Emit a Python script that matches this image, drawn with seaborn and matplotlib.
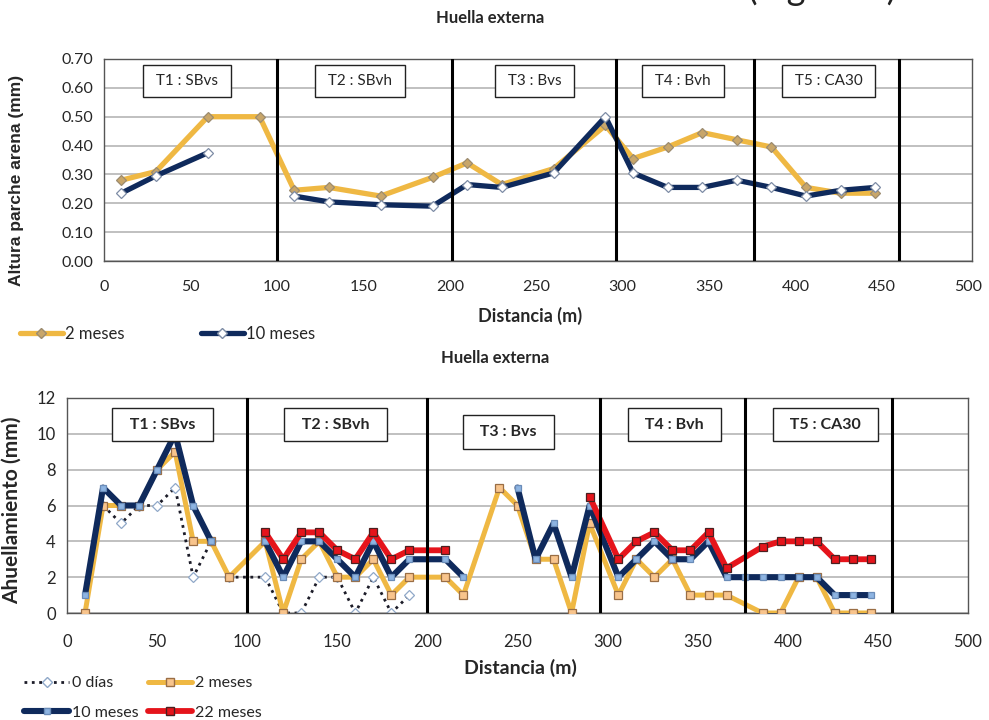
import numpy as np
import pandas as pd
import matplotlib
matplotlib.use("Agg")
import matplotlib.pyplot as plt
from matplotlib.lines import Line2D
from matplotlib.ticker import FormatStrFormatter
import seaborn as sns

sns.set_style("white")
plt.rcParams['font.family'] = ['Lato', 'DejaVu Sans']

nan = np.nan

# ---- Altura parche arena (mm), huella externa ----
dist_top = [10, 30, 60, 90, 110, 130, 160, 190, 210, 230, 260, 290,
            306, 326, 346, 366, 386, 406, 426, 446]
altura_2m = [0.28, 0.31, 0.50, 0.50, 0.245, 0.255, 0.225, 0.29, 0.34, 0.265,
             0.32, 0.47, 0.355, 0.395, 0.445, 0.42, 0.395, 0.255, 0.235, 0.235]
altura_10m = [0.235, 0.295, 0.375, nan, 0.225, 0.205, 0.195, 0.19, 0.265, 0.255,
              0.305, 0.50, 0.305, 0.255, 0.255, 0.28, 0.255, 0.225, 0.245, 0.255]

# ---- Ahuellamiento (mm), huella externa ----  (nan = corte de la linea)
dist_0d = [20, 30, 40, 50, 60, 70, 80, 90, 110, 120, 130, 140, 150, 160, 170, 180, 190]
ahu_0d = [6, 5, 6, 6, 7, 2, 4, 2, 2, 0, 0, 2, 2, 0, 2, 0, 1]

dist_2m = [10, 20, 30, 40, 50, 60, 70, 80, 90, 110, 120, 130, 140, 150, 160, 170, 180, 190,
           210, 220, 240, 250, 260, 270, 280, 290, 306, 316, 326, 336, 346, 356, 366,
           386, 396, 406, 416, 426, 436, 446]
ahu_2m = [0, 6, 6, 6, 8, 9, 4, 4, 2, 4, 0, 3, 4, 2, 2, 3, 1, 2,
          2, 1, 7, 6, 3, 3, 0, 5, 1, 3, 2, 3, 1, 1, 1,
          0, 0, 2, 2, 0, 0, 0]

dist_10m = [10, 20, 30, 40, 50, 60, 70, 80, nan, 110, 120, 130, 140, 150, 160, 170, 180, 190,
            210, 220, nan, 250, 260, 270, 280, 290, 306, 316, 326, 336, 346, 356, 366, 376,
            386, 396, 406, 416, 426, 436, 446]
ahu_10m = [1, 7, 6, 6, 8, 10, 6, 4, nan, 4, 2, 4, 4, 3, 2, 4, 2, 3,
           3, 2, nan, 7, 3, 5, 2, 6, 2, 3, 4, 3, 3, 4, 2, 2,
           2, 2, 2, 2, 1, 1, 1]

dist_22m = [110, 120, 130, 140, 150, 160, 170, 180, 190, 210, nan, 290, 306, 316, 326, 336,
            346, 356, 366, 386, 396, 406, 416, 426, 436, 446]
ahu_22m = [4.5, 3, 4.5, 4.5, 3.5, 3, 4.5, 3, 3.5, 3.5, nan, 6.5, 3, 4, 4.5, 3.5,
           3.5, 4.5, 2.5, 3.7, 4, 4, 4, 3, 3, 3]

tramos = ["T1 : SBvs", "T2 : SBvh", "T3 : Bvs", "T4 : Bvh", "T5 : CA30"]
limites_top = [100, 201, 296, 376, 460]
limites_bot = [100, 200, 296, 376, 458]
centro_top = [48, 148, 249, 335, 419]
centro_bot = [53, 149, 245, 337, 421]

GOLD = "#EFB843"
NAVY = "#0F2A5C"
RED = "#E5141B"


def tabla(x, y):
    df = pd.DataFrame({"x": x, "y": y})
    df["tramo"] = df["y"].isna().cumsum()
    return df.dropna()


def serie(ax, x, y, color, lw, marker, ms, mfc, mec, ls="-", z=2):
    sns.lineplot(data=tabla(x, y), x="x", y="y", units="tramo", estimator=None,
                 ax=ax, color=color, lw=lw, ls=ls, marker=marker, ms=ms,
                 markerfacecolor=mfc, markeredgecolor=mec, markeredgewidth=0.9,
                 zorder=z, legend=False)


fig = plt.figure(figsize=(9.89, 7.2), dpi=100)

# texto cortado del documento original, arriba a la derecha
fig.text(748 / 989, 1.0, "(Figura 4)", ha="left", va="baseline", fontsize=26,
         color="#222222")

# ================= grafico superior =================
ax1 = fig.add_axes([104 / 989, 1 - 261 / 720, (972 - 104) / 989, (261 - 59) / 720])
serie(ax1, dist_top, altura_2m, GOLD, 3.8, "D", 5, "#C8A66A", "#9C8C70", z=3)
serie(ax1, dist_top, altura_10m, NAVY, 3.8, "D", 5.5, "white", "#7D8CA5", z=4)
for xv in limites_top:
    ax1.axvline(xv, color="black", lw=2.2, zorder=5)
for t, xc in zip(tramos, centro_top):
    ax1.text(xc, 0.624, " " + t + " ", ha="center", va="center", fontsize=11, zorder=6,
             bbox=dict(boxstyle="square,pad=0.6", fc="white", ec="#222222", lw=1))
ax1.set_xlim(0, 502)
ax1.set_ylim(0, 0.70)
ax1.set_xticks(np.arange(0, 501, 50))
ax1.set_yticks(np.arange(0, 0.71, 0.1))
ax1.yaxis.set_major_formatter(FormatStrFormatter("%.2f"))
ax1.grid(axis="y", color="#B5B5B5", lw=1.2)
ax1.tick_params(length=0, labelsize=11.5, pad=8)
ax1.tick_params(axis="x", pad=14)
ax1.set_xlabel("Distancia (m)", fontsize=13, fontweight="bold")
ax1.xaxis.set_label_coords((530 - 104) / 868, -0.228)
ax1.set_ylabel("Altura parche arena (mm)", fontsize=12.5, fontweight="bold",
               family=["Liberation Sans", "DejaVu Sans"])
ax1.yaxis.set_label_coords((24 - 104) / 868, 0.40)
for s in ax1.spines.values():
    s.set_color("#555555")
    s.set_linewidth(1)

h_top = [Line2D([], [], color=GOLD, lw=3.8, marker="D", ms=5, mfc="#C8A66A", mec="#9C8C70"),
         Line2D([], [], color=NAVY, lw=3.8, marker="D", ms=5.5, mfc="white", mec="#7D8CA5")]
fig.legend(h_top, ["2 meses", "10 meses"], loc="center left", ncol=2,
           bbox_to_anchor=(0.008, 1 - 334 / 720), frameon=False, fontsize=12,
           handlelength=2.6, handletextpad=0.1, columnspacing=4.6, borderpad=0.2)

fig.text(490 / 989, 1 - 18 / 720, "Huella externa", ha="center", va="center",
         fontsize=12, fontweight="bold")

# ================= grafico inferior =================
ax2 = fig.add_axes([67 / 989, 1 - 613 / 720, (968 - 67) / 989, (613 - 398) / 720])
serie(ax2, dist_0d, ahu_0d, "#1C1C28", 2.0, "D", 5.5, "white", "#8FA8C8", ls=":", z=2)
serie(ax2, dist_2m, ahu_2m, GOLD, 3.6, "s", 6, "#F8C48C", "#9A6E45", z=3)
serie(ax2, dist_10m, ahu_10m, NAVY, 4.4, "s", 4.5, "#8DB4E2", "#6A8CB8", z=4)
serie(ax2, dist_22m, ahu_22m, RED, 4.2, "s", 5.5, RED, "#4A2020", z=5)
for xv in limites_bot:
    ax2.axvline(xv, color="black", lw=2.2, zorder=6)
for t, xc in zip(tramos, centro_bot):
    yc = 10.1 if t.startswith("T3") else 10.5
    ax2.text(xc, yc, "  " + t + "  ", ha="center", va="center", fontsize=11.5,
             fontweight="bold", zorder=7,
             bbox=dict(boxstyle="square,pad=0.6", fc="white", ec="#222222", lw=1))
ax2.set_xlim(0, 500)
ax2.set_ylim(0, 12)
ax2.set_xticks(np.arange(0, 501, 50))
ax2.set_yticks(np.arange(0, 13, 2))
ax2.grid(axis="y", color="#B5B5B5", lw=1.2)
ax2.tick_params(length=0, labelsize=12, pad=8)
ax2.tick_params(axis="x", pad=15)
ax2.set_xlabel("Distancia (m)", fontsize=14, fontweight="bold")
ax2.xaxis.set_label_coords((520 - 67) / 901, -0.214)
ax2.set_ylabel("Ahuellamiento (mm)", fontsize=15, fontweight="bold")
ax2.yaxis.set_label_coords((22 - 67) / 901, 0.48)
for s in ax2.spines.values():
    s.set_color("#555555")
    s.set_linewidth(1)

h_bot = [Line2D([], [], color="#1C1C28", lw=2.0, ls=":", marker="D", ms=5.5, mfc="white", mec="#8FA8C8"),
         Line2D([], [], color=NAVY, lw=4.4, marker="s", ms=4.5, mfc="#8DB4E2", mec="#6A8CB8"),
         Line2D([], [], color=GOLD, lw=3.6, marker="s", ms=6, mfc="#F8C48C", mec="#9A6E45"),
         Line2D([], [], color=RED, lw=4.2, marker="s", ms=5.5, mfc=RED, mec="#4A2020")]
fig.legend(h_bot, ["0 días", "10 meses", "2 meses", "22 meses"], loc="center left", ncol=2,
           bbox_to_anchor=(0.015, 1 - 698 / 720), frameon=False, fontsize=11.5,
           handlelength=2.8, handletextpad=0.15, columnspacing=0.6, labelspacing=0.95,
           borderpad=0.1)

fig.text(495 / 989, 1 - 358 / 720, "Huella externa", ha="center", va="center",
         fontsize=12, fontweight="bold")

fig.savefig("out.png", dpi=100)
